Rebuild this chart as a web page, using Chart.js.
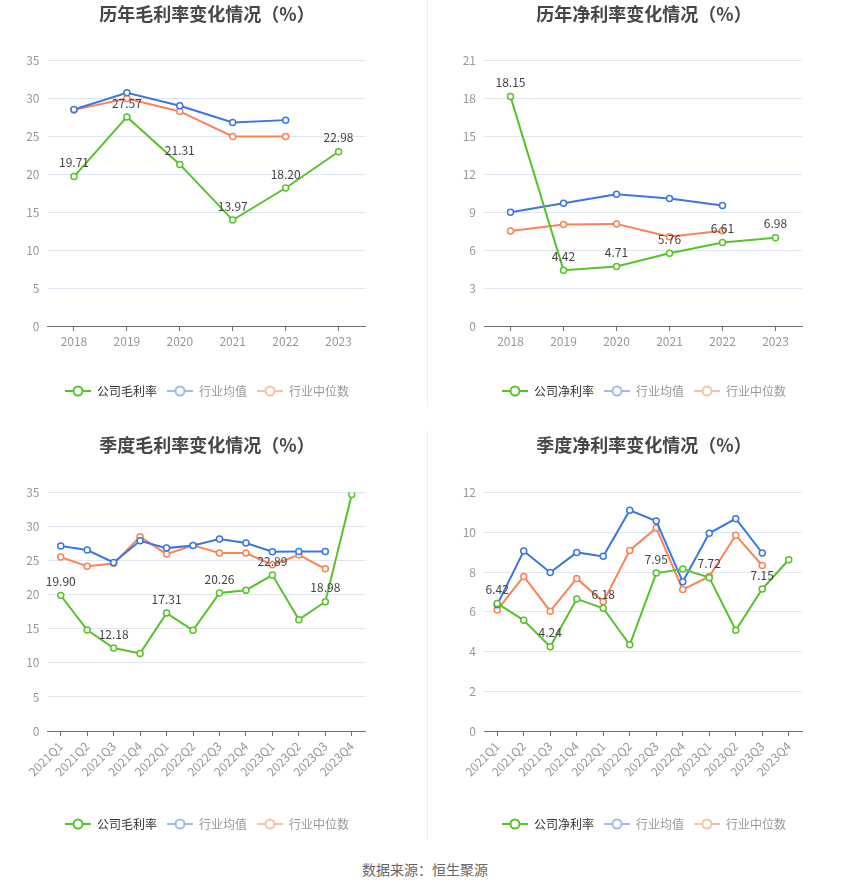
<!DOCTYPE html>
<html lang="zh">

<head>
    <meta charset="UTF-8">
    <title>毛利率 / 净利率变化情况</title>

    <script src="https://cdn.jsdelivr.net/npm/chart.js"></script>

    <style>
        body {
            margin: 0;
            background: #fff;
            font-family: "Noto Sans CJK SC", "Noto Sans", sans-serif;
        }

        #page {
            position: relative;
            width: 850px;
            height: 891px;
        }

        .panel {
            position: absolute;
            width: 425px;
            height: 425px;
        }

        .divider {
            position: absolute;
            left: 427px;
            width: 1px;
            background: #eeeeee;
        }

        #source {
            position: absolute;
            top: 859px;
            width: 850px;
            text-align: center;
            font-size: 14px;
            color: #666;
        }
    </style>
</head>

<body>
    <div id="page">
        <div class="panel" style="left:0;top:0"><canvas id="yearGross"></canvas></div>
        <div class="panel" style="left:425px;top:0"><canvas id="yearNet"></canvas></div>
        <div class="panel" style="left:0;top:431px"><canvas id="quarterGross"></canvas></div>
        <div class="panel" style="left:425px;top:431px"><canvas id="quarterNet"></canvas></div>
        <div class="divider" style="top:0;height:407px"></div>
        <div class="divider" style="top:431px;height:409px"></div>
        <div id="source">数据来源：恒生聚源</div>
    </div>

    <script>
        // ---- data ----
        const years = ['2018', '2019', '2020', '2021', '2022', '2023'];
        const quarters = ['2021Q1', '2021Q2', '2021Q3', '2021Q4', '2022Q1', '2022Q2',
            '2022Q3', '2022Q4', '2023Q1', '2023Q2', '2023Q3', '2023Q4'];

        const yearGrossCompany = [19.71, 27.57, 21.31, 13.97, 18.20, 22.98];
        const yearGrossMean = [28.55, 30.75, 29.05, 26.85, 27.15, null];
        const yearGrossMedian = [28.50, 30.00, 28.30, 25.00, 24.98, null];

        const yearNetCompany = [18.15, 4.42, 4.71, 5.76, 6.61, 6.98];
        const yearNetMean = [9.00, 9.71, 10.42, 10.08, 9.53, null];
        const yearNetMedian = [7.51, 8.03, 8.08, 7.06, 7.53, null];

        const quarterGrossCompany = [19.90, 14.83, 12.18, 11.39, 17.31, 14.78, 20.26, 20.67, 22.89, 16.35, 18.98, 34.71];
        const quarterGrossMean = [27.15, 26.56, 24.74, 27.93, 26.85, 27.25, 28.18, 27.59, 26.31, 26.36, 26.36, null];
        const quarterGrossMedian = [25.53, 24.20, 24.60, 28.52, 25.97, 27.25, 26.12, 26.12, 24.40, 25.87, 23.81, null];

        const quarterNetCompany = [6.42, 5.57, 4.24, 6.65, 6.18, 4.34, 7.95, 8.15, 7.72, 5.07, 7.15, 8.62];
        const quarterNetMean = [6.36, 9.06, 7.98, 8.99, 8.79, 11.11, 10.57, 7.51, 9.95, 10.69, 8.96, null];
        const quarterNetMedian = [6.09, 7.78, 6.03, 7.68, 6.50, 9.09, 10.22, 7.12, 7.78, 9.85, 8.33, null];

        const GREEN = '#58c22b';
        const BLUE = '#3b76e3';
        const ORANGE = '#fb8254';
        const FONT = '"Noto Sans CJK SC", "Noto Sans", sans-serif';

        // small line+circle icon for the legend
        function legendIcon(color) {
            const c = document.createElement('canvas');
            c.width = 26;
            c.height = 14;
            const g = c.getContext('2d');
            g.strokeStyle = color;
            g.lineWidth = 2;
            g.beginPath();
            g.moveTo(0, 7);
            g.lineTo(26, 7);
            g.stroke();
            g.beginPath();
            g.arc(13, 7, 4.5, 0, Math.PI * 2);
            g.fillStyle = '#fff';
            g.fill();
            g.stroke();
            return c;
        }

        // draws the value above each point of the company series
        const valueLabels = {
            id: 'valueLabels',
            afterDatasetsDraw(chart, args, opts) {
                const meta = chart.getDatasetMeta(0);
                const data = chart.data.datasets[0].data;
                const ctx = chart.ctx;
                ctx.save();
                ctx.font = '12px ' + FONT;
                ctx.fillStyle = '#444';
                ctx.textAlign = 'center';
                ctx.textBaseline = 'middle';
                meta.data.forEach((pt, i) => {
                    if (opts.every && i % opts.every !== 0) return;
                    ctx.fillText(data[i].toFixed(2), pt.x, pt.y - 14);
                });
                ctx.restore();
            }
        };

        function makeChart(id, title, labels, company, mean, median, companyName, cfg) {
            const ctx = document.getElementById(id).getContext('2d');
            const line = (label, data, color) => ({
                label: label,
                data: data,
                borderColor: color,
                backgroundColor: '#fff',
                borderWidth: 2,
                pointRadius: 3,
                pointBorderWidth: 1.5,
                pointBackgroundColor: '#fff',
                pointBorderColor: color,
                tension: 0,
                spanGaps: false
            });
            return new Chart(ctx, {
                type: 'line',
                data: {
                    labels: labels,
                    datasets: [
                        line(companyName, company, GREEN),
                        line('行业均值', mean, BLUE),
                        line('行业中位数', median, ORANGE)
                    ]
                },
                options: {
                    responsive: false,
                    animation: false,
                    layout: {
                        padding: { left: cfg.padLeft, right: cfg.padRight, top: 0, bottom: cfg.bottom }
                    },
                    plugins: {
                        title: {
                            display: true,
                            text: title,
                            color: '#464646',
                            font: { family: FONT, size: 18, weight: 'bold' },
                            padding: { top: 3, bottom: cfg.titleGap }
                        },
                        legend: {
                            position: 'bottom',
                            labels: {
                                usePointStyle: true,
                                pointStyleWidth: 26,
                                padding: 10,
                                font: { family: FONT, size: 12 },
                                generateLabels: () => [
                                    { text: companyName, pointStyle: legendIcon(GREEN), fontColor: '#333', datasetIndex: 0 },
                                    { text: '行业均值', pointStyle: legendIcon('#9fbcf2'), fontColor: '#999', datasetIndex: 1 },
                                    { text: '行业中位数', pointStyle: legendIcon('#fdbfa7'), fontColor: '#999', datasetIndex: 2 }
                                ]
                            }
                        },
                        tooltip: { enabled: false },
                        valueLabels: { every: cfg.every }
                    },
                    scales: {
                        x: {
                            offset: true,
                            grid: {
                                offset: false,
                                drawOnChartArea: false,
                                drawTicks: true,
                                tickLength: 5,
                                color: '#6e7079'
                            },
                            border: { color: '#6e7079' },
                            ticks: {
                                color: '#999',
                                padding: 3,
                                autoSkip: false,
                                maxRotation: cfg.rotate,
                                minRotation: cfg.rotate,
                                font: { family: FONT, size: 12 }
                            },
                            afterFit: (scale) => { scale.height = cfg.xHeight; }
                        },
                        y: {
                            min: 0,
                            max: cfg.max,
                            grid: { color: '#e0e6f1', drawTicks: false },
                            border: { display: false },
                            ticks: {
                                stepSize: cfg.step,
                                color: '#999',
                                padding: 8,
                                font: { family: FONT, size: 12 }
                            },
                            afterFit: (scale) => { scale.width = cfg.yWidth; }
                        },
                        // empty right-hand axis, only reserves the blank margin
                        yRight: {
                            position: 'right',
                            grid: { display: false },
                            border: { display: false },
                            ticks: { display: false },
                            afterFit: (scale) => { scale.width = cfg.rightGap; }
                        }
                    }
                },
                plugins: [valueLabels]
            });
        }

        window.onload = function () {
            ['yearGross', 'yearNet', 'quarterGross', 'quarterNet'].forEach(id => {
                const c = document.getElementById(id);
                c.width = 425;
                c.height = 425;
            });

            makeChart('yearGross', '历年毛利率变化情况（%）', years,
                yearGrossCompany, yearGrossMean, yearGrossMedian, '公司毛利率',
                { max: 35, step: 5, padLeft: 0, padRight: 11, rightGap: 49, bottom: 18, titleGap: 36, xHeight: 49, yWidth: 47.5, rotate: 0, every: 1 });

            makeChart('yearNet', '历年净利率变化情况（%）', years,
                yearNetCompany, yearNetMean, yearNetMedian, '公司净利率',
                { max: 21, step: 3, padLeft: 13, padRight: 0, rightGap: 48, bottom: 18, titleGap: 36, xHeight: 49, yWidth: 46, rotate: 0, every: 1 });

            makeChart('quarterGross', '季度毛利率变化情况（%）', quarters,
                quarterGrossCompany, quarterGrossMean, quarterGrossMedian, '公司毛利率',
                { max: 35, step: 5, padLeft: 0, padRight: 11, rightGap: 49, bottom: 16, titleGap: 37, xHeight: 77, yWidth: 47.5, rotate: 45, every: 2 });

            makeChart('quarterNet', '季度净利率变化情况（%）', quarters,
                quarterNetCompany, quarterNetMean, quarterNetMedian, '公司净利率',
                { max: 12, step: 2, padLeft: 13, padRight: 0, rightGap: 48, bottom: 16, titleGap: 37, xHeight: 77, yWidth: 46, rotate: 45, every: 2 });
        };
    </script>

</body>

</html>
